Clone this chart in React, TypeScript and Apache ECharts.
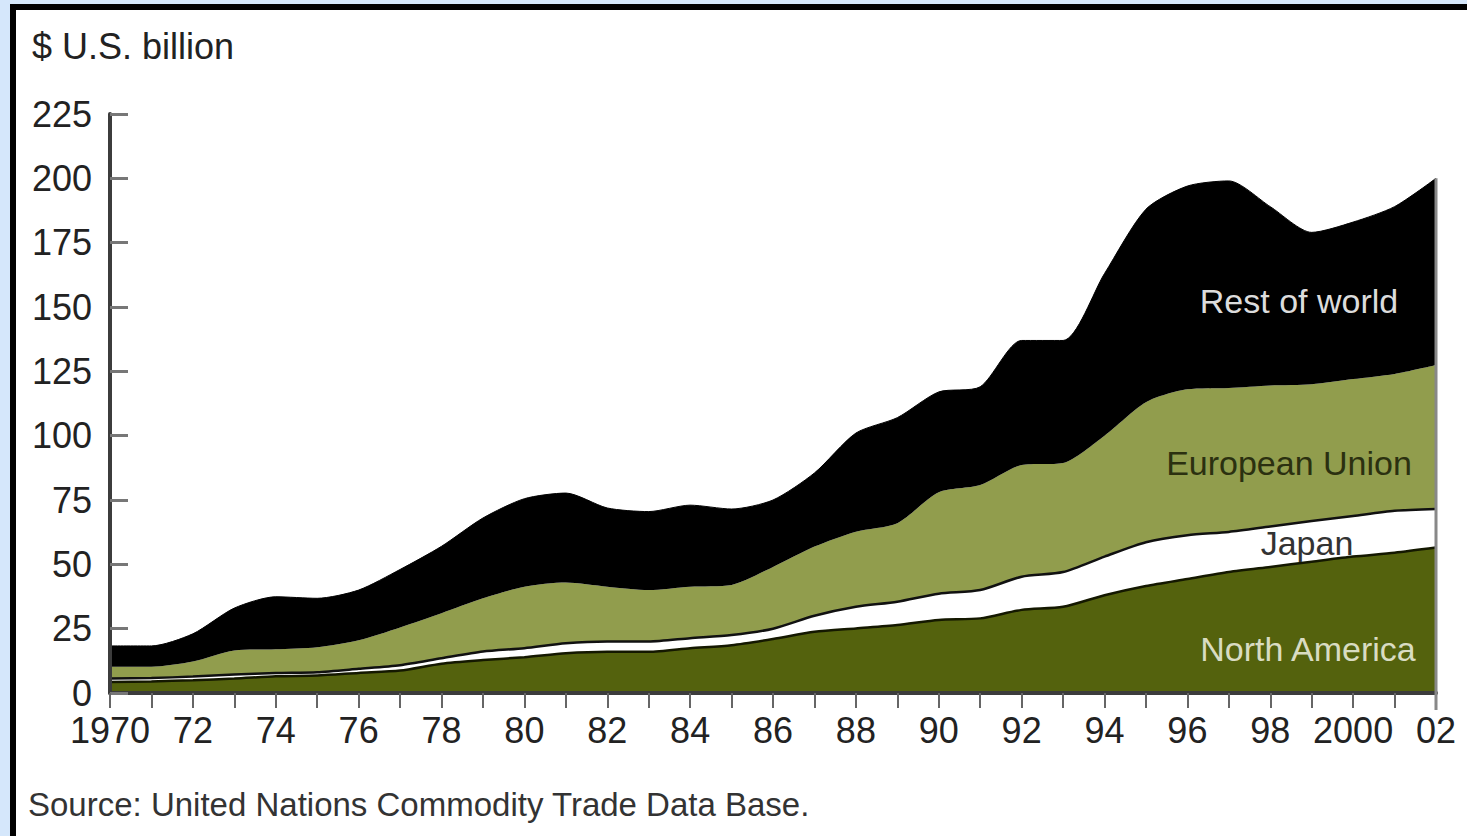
import React, { useEffect, useRef } from "react";
import * as echarts from "echarts";

const years = [
  "1970", "1971", "1972", "1973", "1974", "1975", "1976", "1977", "1978", "1979",
  "1980", "1981", "1982", "1983", "1984", "1985", "1986", "1987", "1988", "1989",
  "1990", "1991", "1992", "1993", "1994", "1995", "1996", "1997", "1998", "1999",
  "2000", "2001", "2002",
];
const tickLabels: Record<string, string> = {
  "1970": "1970", "1972": "72", "1974": "74", "1976": "76", "1978": "78", "1980": "80",
  "1982": "82", "1984": "84", "1986": "86", "1988": "88", "1990": "90", "1992": "92",
  "1994": "94", "1996": "96", "1998": "98", "2000": "2000", "2002": "02",
};

const northAmerica = [4.3, 4.5, 5.0, 5.6, 6.5, 6.8, 7.8, 8.7, 11.4, 12.8, 13.9, 15.4, 16, 16, 17.4, 18.6, 21, 23.8, 25.1, 26.4, 28.4, 29, 32.3, 33.5, 38, 41.6, 44.3, 47, 49, 51, 53, 54.5, 56.5];
const japan = [1.3, 1.3, 1.4, 1.6, 1.3, 1.3, 1.6, 2.1, 2.1, 3.3, 3.5, 3.9, 4, 4, 3.9, 3.9, 4, 6.2, 8.4, 9.1, 10.2, 11, 12.9, 13.5, 15, 17, 17, 15.6, 15.7, 15.8, 15.8, 16.3, 15];
const europeanUnion = [4.6, 4.4, 5.8, 9.3, 9.2, 9.7, 11.1, 14.7, 17.5, 20.7, 23.9, 23.6, 21.3, 20, 20, 19.5, 24, 26.9, 29.2, 30.5, 39.4, 40.8, 43.4, 42.4, 47, 54.4, 56.7, 55.9, 54.8, 53.2, 53.2, 53.2, 56];
const restOfWorld = [8.1, 8.1, 10.8, 16.5, 20.4, 19, 19.5, 22.5, 26, 31.2, 34.2, 34.8, 30.6, 30.5, 31.7, 29.5, 26, 28.6, 38.3, 41, 39, 38.2, 48.4, 47.6, 63, 75, 79, 80.5, 69.5, 59, 61, 65, 72.5];

const FONT = "'Liberation Sans', Arial, Helvetica, sans-serif";

export default function App() {
  const ref = useRef<HTMLDivElement>(null);

  useEffect(() => {
    if (!ref.current) return;
    const chart = echarts.init(ref.current, undefined, { renderer: "svg" });
    const mkSeries = (name: string, data: number[], color: string, line: any) => ({
      name,
      type: "line",
      stack: "total",
      data,
      smooth: 0.25,
      symbol: "none",
      areaStyle: { color, opacity: 1 },
      lineStyle: line,
      z: 2,
    });
    chart.setOption({
      animation: false,
      grid: { left: 110, right: 31, top: 114, bottom: 143, containLabel: false },
      xAxis: {
        type: "category",
        data: years,
        boundaryGap: false,
        z: 10,
        axisLine: { lineStyle: { color: "#3c3c3c", width: 4 } },
        axisTick: { show: true, interval: 0, length: 15, lineStyle: { color: "#666", width: 2 } },
        axisLabel: {
          interval: 0,
          formatter: (v: string) => tickLabels[v] || "",
          fontSize: 36,
          fontFamily: FONT,
          color: "#222",
          margin: 19,
        },
        splitLine: { show: false },
      },
      yAxis: {
        type: "value",
        min: 0,
        max: 225,
        interval: 25,
        z: 10,
        axisLine: { show: true, lineStyle: { color: "#3c3c3c", width: 4 } },
        axisTick: { show: true, inside: true, length: 18, lineStyle: { color: "#777", width: 3 } },
        axisLabel: { fontSize: 36, fontFamily: FONT, color: "#222", margin: 18 },
        splitLine: { show: false },
      },
      series: [
        mkSeries("North America", northAmerica, "#54620d", { color: "#141800", width: 2.5 }),
        mkSeries("Japan", japan, "#ffffff", { color: "#111111", width: 2.5 }),
        mkSeries("European Union", europeanUnion, "#919d4d", { color: "#919d4d", width: 0 }),
        mkSeries("Rest of world", restOfWorld, "#000000", { color: "#000000", width: 1 }),
      ],
    });

    const last = years.length - 1;
    const total = northAmerica[last] + japan[last] + europeanUnion[last] + restOfWorld[last];
    const top = chart.convertToPixel({ xAxisIndex: 0, yAxisIndex: 0 }, [last, total]) as number[];
    const base = chart.convertToPixel({ xAxisIndex: 0, yAxisIndex: 0 }, [last, 0]) as number[];

    chart.setOption({
      graphic: [
        {
          type: "line",
          shape: { x1: top[0], y1: top[1], x2: base[0], y2: base[1] + 17 },
          style: { stroke: "#888", lineWidth: 3 },
          z: 20,
        },
        {
          type: "text",
          x: 32,
          y: 46,
          style: { text: "$ U.S. billion", fill: "#222", fontSize: 36, fontFamily: FONT, textVerticalAlign: "middle" },
        },
        {
          type: "text",
          x: 28,
          y: 804,
          style: {
            text: "Source: United Nations Commodity Trade Data Base.",
            fill: "#333",
            fontSize: 33,
            fontFamily: FONT,
            textVerticalAlign: "middle",
          },
        },
        {
          type: "text",
          x: 1299,
          y: 301,
          z: 30,
          style: { text: "Rest of world", fill: "#dcdcdc", fontSize: 34, fontFamily: FONT, textAlign: "center", textVerticalAlign: "middle" },
        },
        {
          type: "text",
          x: 1289,
          y: 463,
          z: 30,
          style: { text: "European Union", fill: "#2b3010", fontSize: 34, fontFamily: FONT, textAlign: "center", textVerticalAlign: "middle" },
        },
        {
          type: "text",
          x: 1307,
          y: 543,
          z: 30,
          style: { text: "Japan", fill: "#333", fontSize: 34, fontFamily: FONT, textAlign: "center", textVerticalAlign: "middle" },
        },
        {
          type: "text",
          x: 1308,
          y: 649,
          z: 30,
          style: { text: "North America", fill: "#d9dcc2", fontSize: 34, fontFamily: FONT, textAlign: "center", textVerticalAlign: "middle" },
        },
      ],
    });

    return () => chart.dispose();
  }, []);

  return (
    <div style={{ position: "fixed", left: 0, top: 0, width: 1467, height: 836, background: "#d5e7fb", overflow: "hidden" }}>
      <div
        style={{
          position: "absolute",
          left: 10,
          top: 4,
          right: 0,
          bottom: 0,
          background: "#ffffff",
          borderLeft: "6px solid #000",
          borderTop: "6px solid #000",
        }}
      />
      <div ref={ref} style={{ position: "absolute", left: 0, top: 0, width: 1467, height: 836 }} />
    </div>
  );
}
